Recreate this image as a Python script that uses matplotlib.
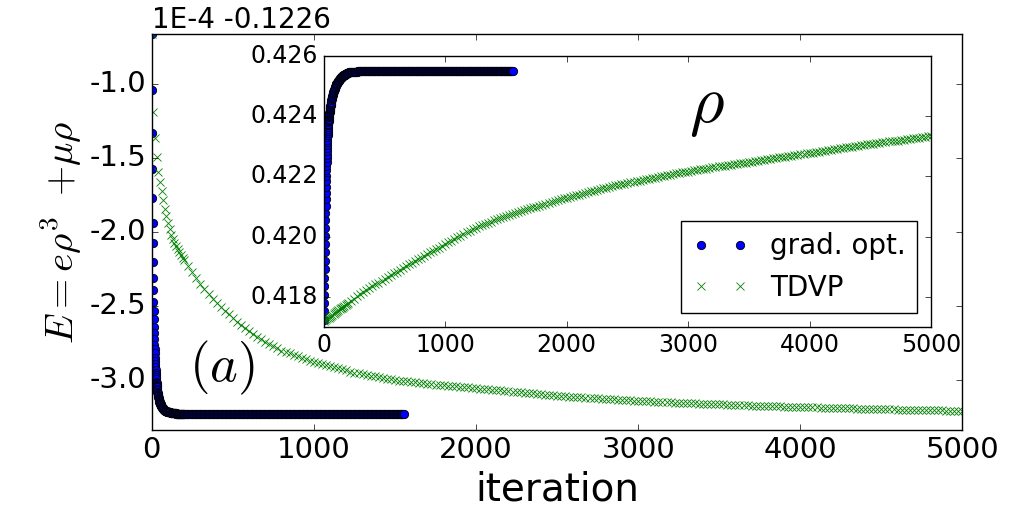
import numpy as np
import matplotlib.pyplot as plt

# energy is shown as (E + 0.1226) / 1e-4, like the offset label on the axis
E_OFFSET_LABEL = '1E-4 -0.1226'

# gradient optimisation: iterations and values
grad_iter = np.concatenate([np.arange(0, 61), np.arange(62, 201, 2),
                            np.arange(205, 1551, 5), [1556]])
grad_E = [
    -0.66, -1.04, -1.33, -1.57, -1.77, -1.94, -2.07, -2.20, -2.31, -2.39, -2.47,
    -2.53, -2.59, -2.64, -2.68, -2.72, -2.76, -2.79, -2.82, -2.85, -2.87,
    -2.89, -2.91, -2.93, -2.95, -2.965, -2.98, -2.995, -3.01, -3.02, -3.03,
    -3.04, -3.05, -3.06, -3.07, -3.08, -3.09, -3.095, -3.10, -3.105, -3.11,
    -3.115, -3.12, -3.125, -3.13, -3.135, -3.14, -3.145, -3.15, -3.152, -3.155,
    -3.158, -3.16, -3.163, -3.165, -3.168, -3.17, -3.173, -3.175, -3.178, -3.18,
    -3.183, -3.186, -3.189, -3.192, -3.195, -3.197, -3.199, -3.201, -3.203, -3.205,
    -3.206, -3.207, -3.209, -3.210, -3.211, -3.212, -3.213, -3.214, -3.215, -3.216,
    -3.216, -3.217, -3.217, -3.218, -3.218, -3.219, -3.219, -3.220, -3.220, -3.221,
    -3.221, -3.222, -3.222, -3.222, -3.223, -3.223, -3.223, -3.224, -3.224, -3.224,
    -3.225, -3.225, -3.225, -3.225, -3.225, -3.226, -3.226, -3.226, -3.226, -3.226,
    -3.227, -3.227, -3.227, -3.227, -3.227, -3.227, -3.227, -3.227, -3.227, -3.227,
    -3.228, -3.228, -3.228, -3.228, -3.228, -3.229, -3.229, -3.229, -3.229, -3.229,
    -3.229, -3.229, -3.229, -3.229, -3.229, -3.229, -3.229, -3.229, -3.229, -3.229, -3.230, -3.230, -3.230, -3.230, -3.230,
    -3.230, -3.230, -3.230, -3.230, -3.230, -3.230, -3.230, -3.230, -3.230, -3.230, -3.230, -3.230, -3.230, -3.230, -3.230,
    -3.230, -3.230, -3.230, -3.230, -3.230, -3.230, -3.230, -3.230, -3.230, -3.230, -3.230, -3.230, -3.230, -3.230, -3.230,
    -3.230, -3.230, -3.230, -3.230, -3.230, -3.230, -3.230, -3.230, -3.230, -3.230, -3.230, -3.230, -3.230, -3.230, -3.230,
    -3.230, -3.230, -3.230, -3.230, -3.230, -3.230, -3.230, -3.230, -3.230, -3.230, -3.230, -3.230, -3.230, -3.230, -3.230,
    -3.230, -3.230, -3.230, -3.230, -3.230, -3.230, -3.230, -3.230, -3.230, -3.230, -3.230, -3.230, -3.230, -3.230, -3.230,
    -3.230, -3.230, -3.230, -3.230, -3.230, -3.230, -3.230, -3.230, -3.230, -3.230, -3.230, -3.230, -3.230, -3.230, -3.230,
    -3.230, -3.230, -3.230, -3.230, -3.230, -3.230, -3.230, -3.230, -3.230, -3.230, -3.230, -3.230, -3.230, -3.230, -3.230,
    -3.230, -3.230, -3.230, -3.230, -3.230, -3.230, -3.230, -3.230, -3.230, -3.230, -3.230, -3.230, -3.230, -3.230, -3.230,
    -3.230, -3.230, -3.230, -3.230, -3.230, -3.230, -3.230, -3.230, -3.230, -3.230, -3.230, -3.230, -3.230, -3.230, -3.230,
    -3.230, -3.230, -3.230, -3.230, -3.230, -3.230, -3.230, -3.230, -3.230, -3.230, -3.230, -3.230, -3.230, -3.230, -3.230,
    -3.230, -3.230, -3.230, -3.230, -3.230, -3.230, -3.230, -3.230, -3.230, -3.230, -3.230, -3.230, -3.230, -3.230, -3.230,
    -3.230, -3.230, -3.230, -3.230, -3.230, -3.230, -3.230, -3.230, -3.230, -3.230, -3.230, -3.230, -3.230, -3.230, -3.230,
    -3.230, -3.230, -3.230, -3.230, -3.230, -3.230, -3.230, -3.230, -3.230, -3.230, -3.230, -3.230, -3.230, -3.230, -3.230,
    -3.230, -3.230, -3.230, -3.230, -3.230, -3.230, -3.230, -3.230, -3.230, -3.230, -3.230, -3.230, -3.230, -3.230, -3.230,
    -3.230, -3.230, -3.230, -3.230, -3.230, -3.230, -3.230, -3.230, -3.230, -3.230, -3.230, -3.230, -3.230, -3.230, -3.230,
    -3.230, -3.230, -3.230, -3.230, -3.230, -3.230, -3.230, -3.230, -3.230, -3.230, -3.230, -3.230, -3.230, -3.230, -3.230,
    -3.230, -3.230, -3.230, -3.230, -3.230, -3.230, -3.230, -3.230, -3.230, -3.230, -3.230, -3.230, -3.230, -3.230, -3.230,
    -3.230,
]
grad_rho = [
    0.41724, 0.41752, 0.41780, 0.41808, 0.41836, 0.41864, 0.41892, 0.41920, 0.41948, 0.41975,
    0.42002, 0.42028, 0.42054, 0.42079, 0.42103, 0.42125, 0.42146, 0.42166, 0.42185, 0.42203,
    0.42220,
    0.42235, 0.42248, 0.42260, 0.42272, 0.42283, 0.42294, 0.42304, 0.42313, 0.42322, 0.42330,
    0.42338, 0.42345, 0.42352, 0.42358, 0.42364, 0.42369, 0.42374, 0.42379, 0.42384, 0.42388,
    0.42392, 0.42396, 0.42400, 0.42403, 0.42407, 0.42410, 0.42413, 0.42416, 0.42419, 0.42422,
    0.42425, 0.42428, 0.42431, 0.42433, 0.42436, 0.42438, 0.42441, 0.42443, 0.42446, 0.42448,
    0.42452, 0.42456, 0.42460, 0.42464, 0.42467, 0.42470, 0.42473, 0.42476, 0.42479, 0.42482,
    0.42484, 0.42486, 0.42488, 0.42490, 0.42492, 0.42494, 0.42496, 0.42498, 0.42500, 0.42503,
    0.42505, 0.42506, 0.42507, 0.42509, 0.42510, 0.42511, 0.42513, 0.42514, 0.42515, 0.42517,
    0.42518, 0.42519, 0.42520, 0.42521, 0.42522, 0.42523, 0.42524, 0.42525, 0.42526, 0.42527,
    0.42528, 0.42529, 0.42529, 0.42530, 0.42531, 0.42532, 0.42532, 0.42533, 0.42534, 0.42535,
    0.42535, 0.42536, 0.42536, 0.42537, 0.42537, 0.42538, 0.42538, 0.42539, 0.42539, 0.42540,
    0.42540, 0.42541, 0.42541, 0.42542, 0.42542, 0.42543, 0.42543, 0.42544, 0.42544, 0.42544,
    0.42545, 0.42545, 0.42545, 0.42545, 0.42545, 0.42546, 0.42546, 0.42546, 0.42546, 0.42546, 0.42547, 0.42547, 0.42547, 0.42547, 0.42547,
    0.42548, 0.42548, 0.42548, 0.42548, 0.42548, 0.42548, 0.42548, 0.42548, 0.42548, 0.42548, 0.42548, 0.42548, 0.42548, 0.42548, 0.42548,
    0.42548, 0.42548, 0.42548, 0.42548, 0.42548, 0.42548, 0.42548, 0.42548, 0.42548, 0.42548, 0.42548, 0.42548, 0.42548, 0.42548, 0.42548,
    0.42548, 0.42548, 0.42548, 0.42548, 0.42548, 0.42548, 0.42548, 0.42548, 0.42548, 0.42548, 0.42548, 0.42548, 0.42548, 0.42548, 0.42548,
    0.42548, 0.42548, 0.42548, 0.42548, 0.42548, 0.42548, 0.42548, 0.42548, 0.42548, 0.42548, 0.42548, 0.42548, 0.42548, 0.42548, 0.42548,
    0.42548, 0.42548, 0.42548, 0.42548, 0.42548, 0.42548, 0.42548, 0.42548, 0.42548, 0.42548, 0.42548, 0.42548, 0.42548, 0.42548, 0.42548,
    0.42548, 0.42548, 0.42548, 0.42548, 0.42548, 0.42548, 0.42548, 0.42548, 0.42548, 0.42548, 0.42548, 0.42548, 0.42548, 0.42548, 0.42548,
    0.42548, 0.42548, 0.42548, 0.42548, 0.42548, 0.42548, 0.42548, 0.42548, 0.42548, 0.42548, 0.42548, 0.42548, 0.42548, 0.42548, 0.42548,
    0.42548, 0.42548, 0.42548, 0.42548, 0.42548, 0.42548, 0.42548, 0.42548, 0.42548, 0.42548, 0.42548, 0.42548, 0.42548, 0.42548, 0.42548,
    0.42548, 0.42548, 0.42548, 0.42548, 0.42548, 0.42548, 0.42548, 0.42548, 0.42548, 0.42548, 0.42548, 0.42548, 0.42548, 0.42548, 0.42548,
    0.42548, 0.42548, 0.42548, 0.42548, 0.42548, 0.42548, 0.42548, 0.42548, 0.42548, 0.42548, 0.42548, 0.42548, 0.42548, 0.42548, 0.42548,
    0.42548, 0.42548, 0.42548, 0.42548, 0.42548, 0.42548, 0.42548, 0.42548, 0.42548, 0.42548, 0.42548, 0.42548, 0.42548, 0.42548, 0.42548,
    0.42548, 0.42548, 0.42548, 0.42548, 0.42548, 0.42548, 0.42548, 0.42548, 0.42548, 0.42548, 0.42548, 0.42548, 0.42548, 0.42548, 0.42548,
    0.42548, 0.42548, 0.42548, 0.42548, 0.42548, 0.42548, 0.42548, 0.42548, 0.42548, 0.42548, 0.42548, 0.42548, 0.42548, 0.42548, 0.42548,
    0.42548, 0.42548, 0.42548, 0.42548, 0.42548, 0.42548, 0.42548, 0.42548, 0.42548, 0.42548, 0.42548, 0.42548, 0.42548, 0.42548, 0.42548,
    0.42548, 0.42548, 0.42548, 0.42548, 0.42548, 0.42548, 0.42548, 0.42548, 0.42548, 0.42548, 0.42548, 0.42548, 0.42548, 0.42548, 0.42548,
    0.42548, 0.42548, 0.42548, 0.42548, 0.42548, 0.42548, 0.42548, 0.42548, 0.42548, 0.42548, 0.42548, 0.42548, 0.42548, 0.42548, 0.42548,
    0.42548, 0.42548, 0.42548, 0.42548, 0.42548, 0.42548, 0.42548, 0.42548, 0.42548, 0.42548, 0.42548, 0.42548, 0.42548, 0.42548, 0.42548,
    0.42548,
]

# TDVP: sampled every 10 iterations at first, then every 25
tdvp_iter = np.concatenate([np.arange(0, 201, 10), np.arange(225, 5001, 25)])
tdvp_E = [
    -0.66, -1.19, -1.36, -1.49, -1.59, -1.66, -1.72, -1.78, -1.84, -1.89, -1.94,
    -1.98, -2.02, -2.045, -2.07, -2.095, -2.115, -2.135, -2.155, -2.175, -2.19,
    -2.23, -2.27, -2.31, -2.35, -2.385, -2.42, -2.45, -2.48, -2.505, -2.53,
    -2.555, -2.58, -2.605, -2.63, -2.65, -2.67, -2.69, -2.71, -2.725, -2.74,
    -2.755, -2.77, -2.785, -2.80, -2.81, -2.82, -2.83, -2.84, -2.85, -2.86,
    -2.87, -2.88, -2.885, -2.89, -2.898, -2.905, -2.913, -2.92, -2.928, -2.935,
    -2.943, -2.95, -2.955, -2.96, -2.965, -2.97, -2.975, -2.98, -2.985, -2.99,
    -2.995, -3.00, -3.003, -3.005, -3.008, -3.01, -3.015, -3.02, -3.023, -3.025,
    -3.028, -3.03, -3.033, -3.035, -3.038, -3.04, -3.043, -3.045, -3.048, -3.05,
    -3.053, -3.055, -3.058, -3.06, -3.063, -3.065, -3.068, -3.07, -3.073, -3.075,
    -3.078, -3.08, -3.083, -3.085, -3.088, -3.09, -3.093, -3.095, -3.098, -3.10,
    -3.103, -3.105, -3.108, -3.11, -3.112, -3.113, -3.115, -3.116, -3.118, -3.12,
    -3.122, -3.123, -3.125, -3.126, -3.128, -3.13, -3.132, -3.133, -3.135, -3.136,
    -3.138, -3.14, -3.141, -3.142, -3.144, -3.145, -3.147, -3.148, -3.149, -3.15,
    -3.152, -3.153, -3.154, -3.155, -3.157, -3.158, -3.159, -3.16, -3.161, -3.162,
    -3.163, -3.164, -3.165, -3.166, -3.167, -3.168, -3.169, -3.17, -3.171, -3.172,
    -3.173, -3.174, -3.175, -3.176, -3.177, -3.178, -3.178, -3.179, -3.18, -3.18,
    -3.181, -3.182, -3.183, -3.184, -3.184, -3.185, -3.186, -3.187, -3.187, -3.188,
    -3.189, -3.19, -3.19, -3.191, -3.192, -3.193, -3.193, -3.194, -3.194, -3.195,
    -3.196, -3.197, -3.197, -3.198, -3.198, -3.199, -3.20, -3.20, -3.201, -3.202,
    -3.202, -3.203, -3.203, -3.204, -3.204, -3.205, -3.205, -3.206, -3.206, -3.207,
    -3.207, -3.208,
]
tdvp_rho = [
    0.41720, 0.41723, 0.41726, 0.41729, 0.41732, 0.41735, 0.41738, 0.41741, 0.41744, 0.41747,
    0.41750, 0.41753, 0.41756, 0.41759, 0.41762, 0.41765, 0.41768, 0.41771, 0.41774, 0.41777,
    0.41780,
    0.41788, 0.41795, 0.41802, 0.41809, 0.41816, 0.41822, 0.41829, 0.41835, 0.41842, 0.41848,
    0.41854, 0.41860, 0.41866, 0.41872, 0.41878, 0.41884, 0.41890, 0.41896, 0.41902, 0.41908,
    0.41914, 0.41920, 0.41926, 0.41931, 0.41937, 0.41942, 0.41948, 0.41953, 0.41959, 0.41964,
    0.41970, 0.41975, 0.41981, 0.41987, 0.41993, 0.41998, 0.42004, 0.42009, 0.42014, 0.42019,
    0.42024, 0.42029, 0.42034, 0.42038, 0.42042, 0.42046, 0.42050, 0.42054, 0.42058, 0.42061,
    0.42065, 0.42068, 0.42072, 0.42075, 0.42079, 0.42082, 0.42085, 0.42088, 0.42091, 0.42094,
    0.42097, 0.42100, 0.42103, 0.42106, 0.42109, 0.42112, 0.42115, 0.42118, 0.42121, 0.42124,
    0.42127, 0.42130, 0.42132, 0.42135, 0.42137, 0.42140, 0.42142, 0.42145, 0.42147, 0.42150,
    0.42152, 0.42155, 0.42157, 0.42160, 0.42162, 0.42165, 0.42167, 0.42170, 0.42172, 0.42174,
    0.42176, 0.42178, 0.42180, 0.42182, 0.42184, 0.42186, 0.42188, 0.42190, 0.42192, 0.42194,
    0.42196, 0.42198, 0.42200, 0.42202, 0.42204, 0.42206, 0.42208, 0.42210, 0.42211, 0.42213,
    0.42215, 0.42216, 0.42218, 0.42220, 0.42221, 0.42223, 0.42225, 0.42226, 0.42228, 0.42230,
    0.42231, 0.42233, 0.42234, 0.42236, 0.42237, 0.42239, 0.42240, 0.42242, 0.42243, 0.42245,
    0.42246, 0.42248, 0.42249, 0.42251, 0.42252, 0.42254, 0.42255, 0.42257, 0.42258, 0.42260,
    0.42261, 0.42263, 0.42264, 0.42266, 0.42267, 0.42269, 0.42270, 0.42272, 0.42273, 0.42275,
    0.42276, 0.42278, 0.42279, 0.42281, 0.42282, 0.42284, 0.42285, 0.42287, 0.42288, 0.42290,
    0.42291, 0.42293, 0.42294, 0.42296, 0.42297, 0.42299, 0.42300, 0.42302, 0.42303, 0.42305,
    0.42306, 0.42307, 0.42308, 0.42310, 0.42311, 0.42313, 0.42314, 0.42316, 0.42317, 0.42318,
    0.42319, 0.42321, 0.42322, 0.42324, 0.42325, 0.42326, 0.42327, 0.42329, 0.42330, 0.42332,
    0.42333, 0.42334,
]

plt.style.use('classic')
plt.rcParams['axes.unicode_minus'] = False
plt.rcParams['mathtext.fontset'] = 'cm'
plt.rcParams['font.family'] = 'DejaVu Sans'

fig = plt.figure(figsize=(10.12, 5.12), dpi=100, facecolor='white')

# main panel: energy
ax = fig.add_axes([0.150, 0.160, 0.801, 0.773])
ax.plot(grad_iter, grad_E, 'o', color='b', mec='k', mew=0.6, ms=6)
ax.plot(tdvp_iter, tdvp_E, 'x', color='g', mec='g', mew=0.6, ms=6)
ax.set_xlim(0, 5000)
ax.set_ylim(-3.338, -0.662)
ax.set_xticks([0, 1000, 2000, 3000, 4000, 5000])
ax.set_yticks([-3.0, -2.5, -2.0, -1.5, -1.0])
ax.set_yticklabels(['-3.0', '-2.5', '-2.0', '-1.5', '-1.0'])
ax.tick_params(labelsize=21)
ax.set_xlabel('iteration', fontsize=28)
ax.set_ylabel(r'$E{=}e\rho^3\;\;{+}\mu\rho$', fontsize=28)
ax.yaxis.set_label_coords(-0.084, 0.5)
ax.text(0.0, 1.015, E_OFFSET_LABEL, transform=ax.transAxes, fontsize=20,
        ha='left', va='baseline')
ax.text(230, -2.92, r'$(a)$', fontsize=38, ha='left', va='center')

# inset: density
ins = fig.add_axes([0.320, 0.361, 0.600, 0.530])
ins.set_facecolor('white')
ins.plot(grad_iter, grad_rho, 'o', color='b', mec='k', mew=0.6, ms=6, label='grad. opt.')
ins.plot(tdvp_iter, tdvp_rho, 'x', color='g', mec='g', mew=0.6, ms=6, label='TDVP')
ins.set_xlim(0, 5000)
ins.set_ylim(0.417, 0.426)
ins.set_xticks([0, 1000, 2000, 3000, 4000, 5000])
ins.set_yticks([0.418, 0.420, 0.422, 0.424, 0.426])
ins.set_yticklabels(['0.418', '0.420', '0.422', '0.424', '0.426'])
ins.tick_params(labelsize=17)
ins.text(3150, 0.42433, r'$\rho$', fontsize=48, ha='center', va='center')
ins.legend(loc='lower right', numpoints=2, fontsize=20, frameon=True,
           fancybox=False, borderaxespad=0.5, handlelength=2.0)

fig.savefig('out.png', dpi=100, facecolor='white')
